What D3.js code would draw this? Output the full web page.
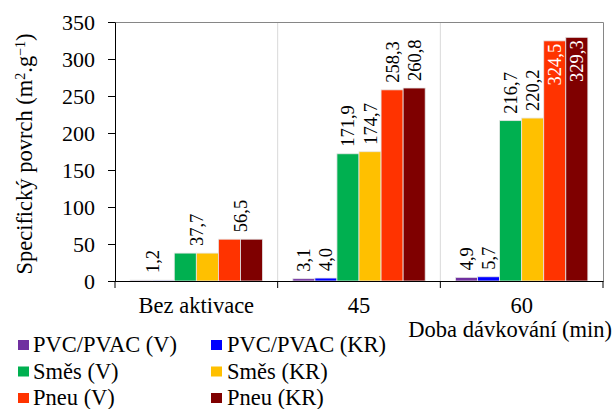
<!DOCTYPE html>
<html>
<head>
<meta charset="utf-8">
<script src="https://cdnjs.cloudflare.com/ajax/libs/d3/7.8.5/d3.min.js"></script>
<style>
  html, body { margin: 0; padding: 0; background: #fff; }
  svg { display: block; }
  svg text { font-family: "Liberation Serif", "Times New Roman", Times, serif; fill: #000; }
</style>
</head>
<body>
<svg id="chart" width="616" height="409"></svg>
<script>
// ---- data ----
const categories = ["Bez aktivace", "45", "60"];
const seriesNames = ["PVC/PVAC (V)", "PVC/PVAC (KR)", "Směs (V)", "Směs (KR)", "Pneu (V)", "Pneu (KR)"];
const seriesColors = ["#7030A0", "#0000FF", "#00B050", "#FFC000", "#FF3300", "#7F0000"];
const pvcV   = [1.2, 3.1, 4.9];
const pvcKR  = [1.2, 4.0, 5.7];
const smesV  = [37.7, 171.9, 216.7];
const smesKR = [37.7, 174.7, 220.2];
const pneuV  = [56.5, 258.3, 324.5];
const pneuKR = [56.5, 260.8, 329.3];
const yTicks = [0, 50, 100, 150, 200, 250, 300, 350];
const yTitle = "Specifický povrch";
const xTitle = "Doba dávkování (min)";

const seriesValues = [pvcV, pvcKR, smesV, smesKR, pneuV, pneuKR];
const FONT = '"Liberation Serif", "Times New Roman", Times, serif';

// ---- layout ----
const svg = d3.select("#chart");
const plot = { left: 115, right: 603, top: 22, bottom: 281 };

const x0 = d3.scaleBand().domain(categories).range([plot.left, plot.right]).padding(0);
const gp = 15.15;
const x1 = d3.scaleBand().domain(d3.range(seriesNames.length)).range([gp, x0.bandwidth() - gp]).padding(0);
const y = d3.scaleLinear().domain([0, 350]).range([plot.bottom, plot.top]);

const fmt = v => d3.format(".1f")(v).replace(".", ",");

// separators
svg.append("g").selectAll("line").data(categories.slice(1)).join("line")
  .attr("x1", d => x0(d)).attr("x2", d => x0(d))
  .attr("y1", plot.top).attr("y2", plot.bottom)
  .attr("stroke", "#d9d9d9").attr("stroke-width", 1);

// plot border top & right
svg.append("path")
  .attr("d", `M${plot.left},${plot.top + 0.5}H${plot.right + 0.5}V${plot.bottom}`)
  .attr("fill", "none").attr("stroke", "#868686").attr("stroke-width", 1);

// bars
const barData = [];
categories.forEach((c, ci) => {
  seriesValues.forEach((arr, si) => {
    barData.push({ c, ci, si, v: arr[ci] });
  });
});
svg.append("g").selectAll("rect").data(barData).join("rect")
  .attr("x", d => x0(d.c) + x1(d.si))
  .attr("y", d => y(d.v))
  .attr("width", x1.bandwidth())
  .attr("height", d => y(0) - y(d.v))
  .attr("fill", d => seriesColors[d.si])
  .attr("stroke", "#e6e6e6").attr("stroke-width", 0.8);

// value labels
const labels = [];
categories.forEach((c, ci) => {
  for (let p = 0; p < seriesValues.length; p += 2) {
    const a = seriesValues[p][ci], b = seriesValues[p + 1][ci];
    if (a === b) {
      labels.push({ v: a, cx: x0(c) + x1(p + 1) });
    } else {
      labels.push({ v: a, cx: x0(c) + x1(p) + x1.bandwidth() / 2 });
      labels.push({ v: b, cx: x0(c) + x1(p + 1) + x1.bandwidth() / 2 });
    }
  }
});
const lg = svg.append("g");
labels.forEach(l => {
  const t = lg.append("text")
    .style("font-family", FONT)
    .attr("font-size", 18.5)
    .attr("dy", "0.35em")
    .text(fmt(l.v));
  const len = t.node().getComputedTextLength();
  const top = y(l.v);
  if (top - 7 - len < plot.top) {
    t.attr("text-anchor", "end").style("fill", "#fff")
     .attr("transform", `translate(${l.cx},${top + 3}) rotate(-90)`);
  } else {
    t.attr("text-anchor", "start")
     .attr("transform", `translate(${l.cx},${top - 7}) rotate(-90)`);
  }
});

// y axis
const yAxis = svg.append("g").attr("transform", `translate(${plot.left},0)`)
  .call(d3.axisLeft(y).tickValues(yTicks).tickSize(7).tickSizeOuter(0).tickPadding(13).tickFormat(d3.format("d")));
yAxis.attr("font-family", null).attr("font-size", null);
yAxis.selectAll("text").style("font-family", FONT).attr("font-size", 22).style("fill", "#000");
yAxis.selectAll("line, path").attr("stroke", "#000");

// x axis line + ticks
svg.append("line").attr("x1", plot.left).attr("x2", plot.right + 0.5)
  .attr("y1", plot.bottom + 0.5).attr("y2", plot.bottom + 0.5).attr("stroke", "#000");
const xt = categories.map(c => x0(c)).concat([x0.range()[1]]);
svg.append("g").selectAll("line").data(xt).join("line")
  .attr("x1", d => d).attr("x2", d => d)
  .attr("y1", plot.bottom).attr("y2", plot.bottom + 7)
  .attr("stroke", "#000");

// category labels
svg.append("g").selectAll("text").data(categories).join("text")
  .style("font-family", FONT)
  .attr("x", d => x0(d) + x0.bandwidth() / 2)
  .attr("y", 312.5)
  .attr("text-anchor", "middle")
  .attr("font-size", 22.5)
  .text(d => d);

// x title
svg.append("text").style("font-family", FONT).attr("x", 612).attr("y", 337).attr("text-anchor", "end")
  .attr("font-size", 22.5).text(xTitle);

// y title
const yt = svg.append("text")
  .style("font-family", FONT)
  .attr("transform", `translate(32,154) rotate(-90)`)
  .attr("text-anchor", "middle")
  .attr("font-size", 22.5);
yt.append("tspan").text(yTitle + " (m");
yt.append("tspan").attr("font-size", 14).attr("baseline-shift", "super").text("2");
yt.append("tspan").text(".g");
yt.append("tspan").attr("font-size", 14).attr("baseline-shift", "super").text("−1");
yt.append("tspan").text(")");

// legend
const legX = [18, 211], legTextX = [33, 227], legY = [352, 378.5, 405];
const leg = svg.append("g");
seriesNames.forEach((n, i) => {
  const col = i % 2, row = Math.floor(i / 2);
  leg.append("rect").attr("x", legX[col]).attr("y", legY[row] - 12)
    .attr("width", 11).attr("height", 10).attr("fill", seriesColors[i]);
  leg.append("text").style("font-family", FONT).attr("x", legTextX[col]).attr("y", legY[row])
    .attr("font-size", 22.5).text(n);
});
</script>
</body>
</html>
